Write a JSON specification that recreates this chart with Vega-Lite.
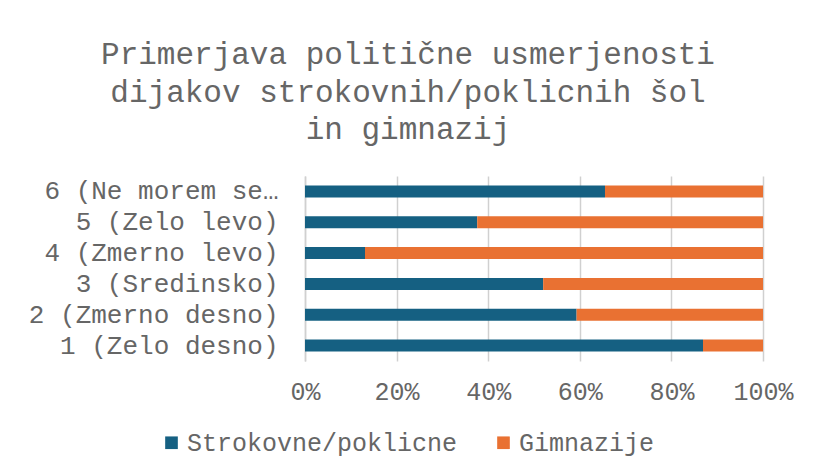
{
  "$schema": "https://vega.github.io/schema/vega-lite/v6.json",
  "width": 458,
  "height": 185,
  "autosize": "none",
  "padding": {"left": 305, "top": 176, "right": 54, "bottom": 114},
  "background": "white",
  "title": {
    "text": ["Primerjava politične usmerjenosti", "dijakov strokovnih/poklicnih šol", "in gimnazij"],
    "font": "Liberation Mono",
    "fontSize": 31,
    "fontWeight": "normal",
    "color": "#666666",
    "anchor": "middle",
    "dx": -126,
    "lineHeight": 37.5,
    "offset": 30
  },
  "data": {
    "values": [
      {"kategorija": "6 (Ne morem se…", "sola": "Strokovne/poklicne", "delez": 65.5},
      {"kategorija": "6 (Ne morem se…", "sola": "Gimnazije", "delez": 34.5},
      {"kategorija": "5 (Zelo levo)", "sola": "Strokovne/poklicne", "delez": 37.6},
      {"kategorija": "5 (Zelo levo)", "sola": "Gimnazije", "delez": 62.4},
      {"kategorija": "4 (Zmerno levo)", "sola": "Strokovne/poklicne", "delez": 13.1},
      {"kategorija": "4 (Zmerno levo)", "sola": "Gimnazije", "delez": 86.9},
      {"kategorija": "3 (Sredinsko)", "sola": "Strokovne/poklicne", "delez": 52.0},
      {"kategorija": "3 (Sredinsko)", "sola": "Gimnazije", "delez": 48.0},
      {"kategorija": "2 (Zmerno desno)", "sola": "Strokovne/poklicne", "delez": 59.3},
      {"kategorija": "2 (Zmerno desno)", "sola": "Gimnazije", "delez": 40.7},
      {"kategorija": "1 (Zelo desno)", "sola": "Strokovne/poklicne", "delez": 86.9},
      {"kategorija": "1 (Zelo desno)", "sola": "Gimnazije", "delez": 13.1}
    ]
  },
  "mark": {"type": "bar", "size": 12},
  "encoding": {
    "y": {
      "field": "kategorija",
      "type": "nominal",
      "sort": ["6 (Ne morem se…", "5 (Zelo levo)", "4 (Zmerno levo)", "3 (Sredinsko)", "2 (Zmerno desno)", "1 (Zelo desno)"],
      "title": null,
      "axis": {
        "labelFont": "Liberation Mono",
        "labelFontSize": 26,
        "labelColor": "#666666",
        "labelPadding": 27,
        "labelLimit": 400,
        "ticks": false,
        "domainColor": "#d0d0d0",
        "domainWidth": 1.5
      }
    },
    "x": {
      "field": "delez",
      "type": "quantitative",
      "stack": "normalize",
      "title": null,
      "scale": {"domain": [0, 1]},
      "axis": {
        "format": ".0%",
        "values": [0, 0.2, 0.4, 0.6, 0.8, 1],
        "labelFont": "Liberation Mono",
        "labelFontSize": 25,
        "labelColor": "#666666",
        "labelPadding": 18,
        "labelFlush": false,
        "ticks": false,
        "domain": false,
        "grid": true,
        "gridColor": "#d0d0d0",
        "gridWidth": 1.5
      }
    },
    "color": {
      "field": "sola",
      "type": "nominal",
      "sort": ["Strokovne/poklicne", "Gimnazije"],
      "scale": {"domain": ["Strokovne/poklicne", "Gimnazije"], "range": ["#156082", "#E97132"]},
      "legend": {
        "title": null,
        "orient": "none",
        "direction": "horizontal",
        "legendX": -146,
        "legendY": 254,
        "labelFont": "Liberation Mono",
        "labelFontSize": 25,
        "labelColor": "#666666",
        "symbolType": "square",
        "symbolSize": 160,
        "symbolStrokeWidth": 0,
        "labelOffset": 3,
        "columnPadding": 33,
        "labelLimit": 400
      }
    },
    "order": {"field": "sola", "sort": "descending"}
  },
  "config": {"view": {"stroke": null}}
}
